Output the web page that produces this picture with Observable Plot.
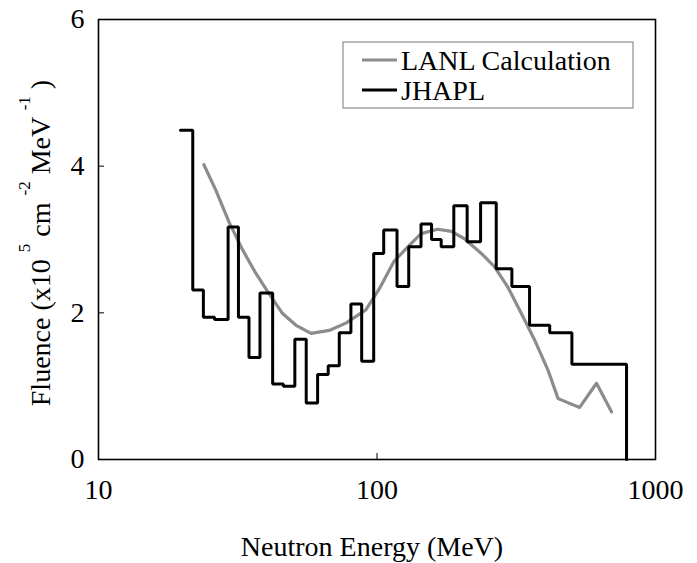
<!DOCTYPE html>
<html>
<head>
<meta charset="utf-8">
<script src="https://cdn.jsdelivr.net/npm/d3@7"></script>
<script src="https://cdn.jsdelivr.net/npm/@observablehq/plot@0.6"></script>
<style>
  html, body { margin: 0; padding: 0; background: #fff; }
  #chart { width: 697px; height: 563px; }
</style>
</head>
<body>
<div id="chart"></div>
<script>
// JHAPL measured histogram: bin edges (MeV) and fluence per bin
const jhaplEdges = [19.7, 21.8, 23.8, 26.1, 29.2, 31.8, 34.7, 38.0, 42.2, 46.1, 50.7, 55.7, 61.2, 66.8, 73.2, 80.6, 88.1, 97.3, 105.7, 118, 130, 143.9, 157, 170, 188.7, 210.7, 235.5, 268, 305, 353, 417, 501, 787];
const jhaplValues = [4.49, 2.31, 1.94, 1.91, 3.17, 1.94, 1.39, 2.27, 1.03, 1.00, 1.64, 0.77, 1.16, 1.28, 1.73, 2.12, 1.34, 2.81, 3.13, 2.36, 2.90, 3.21, 3.00, 2.90, 3.46, 2.97, 3.50, 2.60, 2.36, 1.83, 1.73, 1.30];

// LANL calculation curve
const lanlEnergy = [23.9, 26.4, 29.4, 32.9, 36.7, 40.5, 45.8, 51.2, 58.0, 67.4, 77.3, 91.2, 102, 115, 129, 144, 165, 185, 206, 237, 264, 295, 330, 368, 411, 447, 534, 614, 695];
const lanlFluence = [4.02, 3.67, 3.24, 2.86, 2.54, 2.29, 1.99, 1.83, 1.72, 1.76, 1.86, 2.04, 2.33, 2.70, 2.90, 3.08, 3.14, 3.11, 3.01, 2.81, 2.63, 2.35, 1.99, 1.63, 1.22, 0.83, 0.71, 1.04, 0.65];

const xTicks = [10, 100, 1000];
const yTicks = [0, 2, 4, 6];

const jhapl = jhaplEdges.map((e, i) => ({x: e, y: i < jhaplValues.length ? jhaplValues[i] : jhaplValues[jhaplValues.length - 1]}));
jhapl.push({x: jhaplEdges[jhaplEdges.length - 1], y: 0});
const lanl = lanlEnergy.map((e, i) => ({x: e, y: lanlFluence[i]}));

const ff = "'Liberation Serif', 'Times New Roman', Times, serif";
const W = 697, H = 563;
const chart = Plot.plot({
  width: W,
  height: H,
  marginLeft: 98,
  marginRight: 42,
  marginTop: 19,
  marginBottom: 104,
  style: {fontFamily: ff, background: "#fff", color: "#000"},
  x: {type: "log", domain: [10, 1000]},
  y: {domain: [0, 6]},
  marks: [
    Plot.axisX({ticks: xTicks, tickFormat: d => String(d), tickSize: -6, tickPadding: 26, fontSize: 28, stroke: "#000", label: null}),
    Plot.axisY({ticks: yTicks, tickFormat: d => String(d), tickSize: -6, tickPadding: 20, fontSize: 28, stroke: "#000", label: null}),
    Plot.line(lanl, {x: "x", y: "y", stroke: "#8c8c8c", strokeWidth: 3.2, curve: "linear"}),
    Plot.line(jhapl, {x: "x", y: "y", stroke: "#000", strokeWidth: 3, curve: "step-after", strokeLinejoin: "miter"}),
    Plot.frame({stroke: "#000", strokeWidth: 1.6})
  ]
});
document.getElementById("chart").appendChild(chart);

const svg = d3.select(chart);

// X axis title
svg.append("text")
  .attr("x", 372).attr("y", 556)
  .attr("text-anchor", "middle")
  .style("font-family", ff).style("font-size", "28px").attr("fill", "#000")
  .text("Neutron Energy (MeV)");

// Y axis title with superscripts
const yt = svg.append("text")
  .attr("transform", "translate(50,243) rotate(-90)")
  .attr("text-anchor", "middle")
  .style("font-family", ff).style("font-size", "28px").attr("fill", "#000");
yt.append("tspan").text("Fluence (x10 ");
yt.append("tspan").style("font-size", "17px").attr("dy", -20).text("5");
yt.append("tspan").attr("dy", 20).text(" cm ");
yt.append("tspan").style("font-size", "17px").attr("dy", -20).text("-2");
yt.append("tspan").attr("dy", 20).text(" MeV ");
yt.append("tspan").style("font-size", "17px").attr("dy", -20).text("-1");
yt.append("tspan").attr("dy", 20).text(" )");

// Legend
const lg = svg.append("g").attr("text-anchor", "start");
lg.append("rect").attr("x", 343).attr("y", 42).attr("width", 290).attr("height", 66)
  .attr("fill", "#fff").attr("stroke", "#777").attr("stroke-width", 1);
lg.append("line").attr("x1", 362).attr("x2", 397).attr("y1", 60).attr("y2", 60)
  .attr("stroke", "#8c8c8c").attr("stroke-width", 3);
lg.append("line").attr("x1", 362).attr("x2", 397).attr("y1", 90).attr("y2", 90)
  .attr("stroke", "#000").attr("stroke-width", 3);
lg.append("text").attr("x", 401).attr("y", 70).attr("text-anchor", "start")
  .style("font-family", ff).style("font-size", "28px").attr("fill", "#000").text("LANL Calculation");
lg.append("text").attr("x", 401).attr("y", 100).attr("text-anchor", "start")
  .style("font-family", ff).style("font-size", "28px").attr("fill", "#000").text("JHAPL");
</script>
</body>
</html>
